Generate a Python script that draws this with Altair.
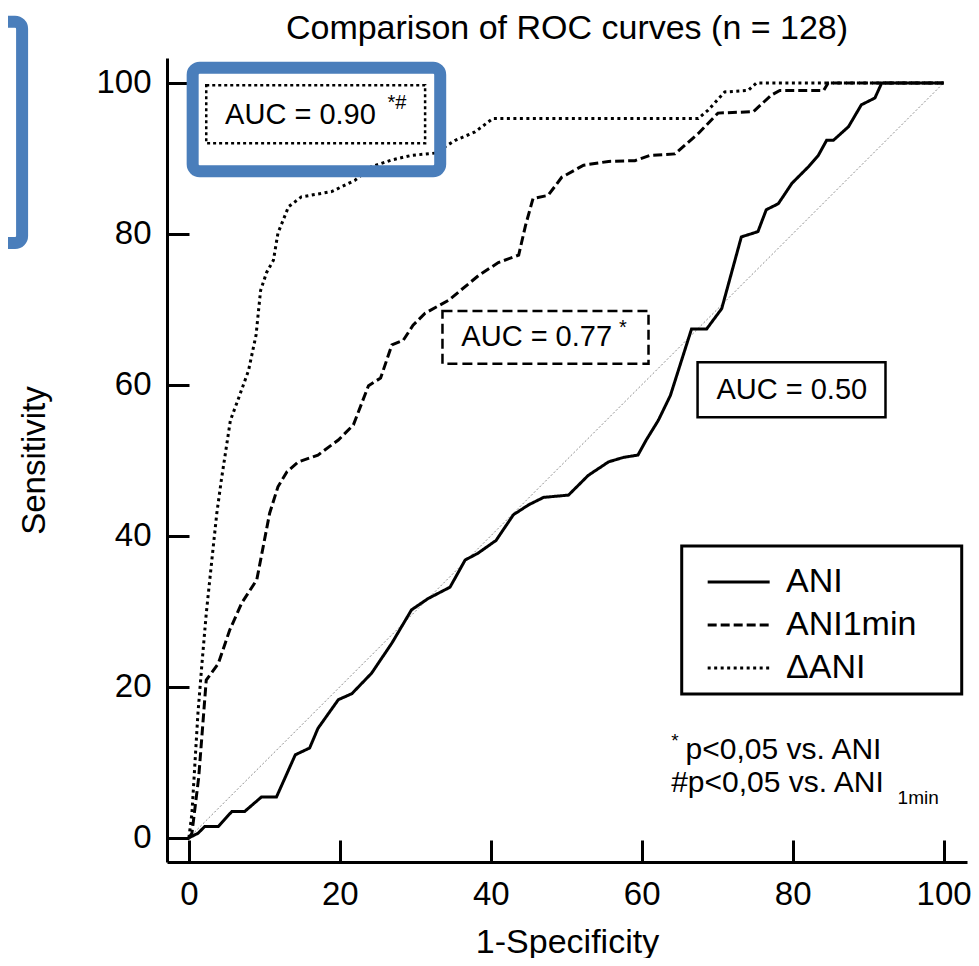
import altair as alt
import pandas as pd

# ---------------- data ----------------
SERIES = ["ANI", "ANI1min", "ΔANI"]

ani_x = [0, 1.2, 2.1, 3.9, 5.7, 7.4, 9.6, 11.6, 14.1, 16.0, 17.1, 19.8, 21.6, 24.2, 26.9,
         29.5, 31.7, 34.6, 36.6, 38.3, 40.7, 43.0, 45.0, 47.0, 50.3, 52.9, 55.6, 57.6, 59.5,
         60.6, 62.2, 63.8, 66.6, 68.6, 70.6, 73.2, 75.4, 76.5, 78.1, 79.9, 82.1, 83.4, 84.5,
         85.4, 87.4, 89.1, 90.9, 91.8, 100]
ani_y = [0, 0.6, 1.5, 1.5, 3.5, 3.5, 5.4, 5.4, 11.0, 11.9, 14.5, 18.3, 19.1, 21.8, 25.8,
         30.2, 31.7, 33.2, 36.8, 37.7, 39.4, 42.8, 44.1, 45.1, 45.4, 48.0, 49.8, 50.4, 50.7,
         52.7, 55.3, 58.6, 67.4, 67.4, 70.1, 79.6, 80.3, 83.2, 84.0, 86.7, 88.9, 90.4, 92.4,
         92.4, 94.2, 97.1, 98.0, 100, 100]

ani1_x = [0, 0.4, 1.3, 2.3, 3.9, 5.4, 7.0, 9.0, 10.7, 11.8, 13.0, 14.5, 17.1, 19.8, 21.8,
          23.8, 25.4, 26.9, 28.4, 29.7, 31.3, 34.4, 38.4, 41.0, 43.7, 44.6, 45.6, 47.6, 49.4,
          52.3, 55.6, 59.1, 61.1, 64.4, 67.5, 70.1, 74.8, 77.2, 78.3, 84.1, 84.7, 100]
ani1_y = [0, 0.6, 8.0, 20.9, 23.1, 27.5, 31.1, 34.2, 43.0, 46.5, 48.5, 49.8, 50.7, 52.7, 54.7,
          59.9, 60.9, 65.3, 65.9, 67.9, 69.5, 71.2, 74.5, 76.2, 77.2, 81.1, 84.7, 85.1, 87.5,
          89.1, 89.6, 89.7, 90.4, 90.6, 93.3, 96.0, 96.2, 98.4, 99.0, 99.0, 100, 100]

dani_x = [0, 0.4, 1.2, 1.7, 2.3, 3.0, 3.7, 4.3, 5.0, 5.5, 6.5, 7.9, 8.9, 9.5, 10.3, 11.2,
          11.8, 13.2, 14.9, 18.9, 22.0, 24.2, 26.9, 29.5, 32.6, 35.3, 37.9, 40.3, 54.2, 67.5,
          68.8, 71.0, 74.1, 75.2, 100]
dani_y = [0, 3.2, 16.5, 22.7, 29.7, 36.4, 43.0, 47.4, 52.0, 55.3, 58.0, 61.9, 66.6, 72.5,
          74.9, 76.5, 80.1, 83.6, 84.9, 85.6, 87.1, 88.9, 89.8, 90.4, 90.7, 92.4, 93.5, 95.3,
          95.3, 95.3, 96.4, 98.8, 99.0, 100, 100]

diag_x = [0, 100]
diag_y = [0, 100]

TICKS = [0, 20, 40, 60, 80, 100]

# annotation boxes
auc_labels = ["AUC = 0.90", "AUC = 0.77", "AUC = 0.50"]
auc_marks = ["*#", "*"]
auc_box_x = [2.3, 33.6, 67.4]
auc_box_x2 = [31.3, 60.9, 92.3]
auc_box_y = [99.7, 69.8, 63.0]
auc_box_y2 = [92.0, 62.8, 55.7]
auc_text_x = [4.8, 36.1, 69.9]
auc_text_y = [95.8, 66.3, 59.3]
auc_mark_x = [26.3, 57.0]
auc_mark_y = [97.4, 67.6]

# legend frame
leg_box_x, leg_box_x2 = [65.3], [102.4]
leg_box_y, leg_box_y2 = [38.65], [19.05]

# highlight boxes (blue)
hl_x = [0.5, -40]
hl_x2 = [33.3, -22.1]
hl_y = [102.0, 108.1]
hl_y2 = [88.3, 78.8]

foot_main = ["p<0,05 vs. ANI", "#p<0,05 vs. ANI"]
foot_main_x = [65.8, 63.9]
foot_main_y = [11.6, 7.3]
foot_small = ["*", "1min"]
foot_small_x = [63.9, 93.9]
foot_small_y = [12.8, 5.3]

# ---------------- build tables ----------------
rows = []
for name, xs_, ys_ in [("ANI", ani_x, ani_y), ("ANI1min", ani1_x, ani1_y), ("ΔANI", dani_x, dani_y)]:
    for i, (a, b) in enumerate(zip(xs_, ys_)):
        rows.append({"series": name, "x": a, "y": b, "order": i})
curves = pd.DataFrame(rows)
diag = pd.DataFrame({"x": diag_x, "y": diag_y})

FONT = "Liberation Sans"
BLUE = "#4A7EBB"
W, H = 800, 804

xscale = alt.Scale(domain=[-2.9, 103.1], nice=False, zero=False)
yscale = alt.Scale(domain=[-3.2, 103.3], nice=False, zero=False)

x_axis = alt.Axis(values=TICKS, title="1-Specificity", ticks=False, tickSize=0,
                  grid=True, gridColor="black", gridWidth=3, gridDash=[0, H - 22, 22, 3000],
                  domain=True, domainColor="black", domainWidth=3,
                  labelFont=FONT, labelFontSize=33, labelColor="black", labelPadding=16,
                  titleFont=FONT, titleFontSize=34, titleFontWeight="normal", titleColor="black",
                  titlePadding=14)
y_axis = alt.Axis(values=TICKS, title="Sensitivity", ticks=False, tickSize=0,
                  grid=True, gridColor="black", gridWidth=3, gridDash=[22, 3000],
                  domain=True, domainColor="black", domainWidth=3,
                  labelFont=FONT, labelFontSize=33, labelColor="black", labelPadding=16,
                  titleFont=FONT, titleFontSize=33, titleFontWeight="normal", titleColor="black",
                  titlePadding=44)

X = alt.X("x:Q", scale=xscale, axis=x_axis)
Y = alt.Y("y:Q", scale=yscale, axis=y_axis)

diag_layer = alt.Chart(diag).mark_line(color="#8c8c8c", strokeWidth=1, strokeDash=[2, 2]).encode(x=X, y=Y)

curve_layer = alt.Chart(curves).mark_line(color="black", strokeWidth=3).encode(
    x=X, y=Y, order="order:Q",
    strokeDash=alt.StrokeDash(
        "series:N",
        scale=alt.Scale(domain=SERIES, range=[[1, 0], [9, 4], [3, 3.5]]),
        legend=alt.Legend(title=None, orient="none", legendX=534, legendY=507,
                          padding=0,
                          symbolType="M-1,0H5", symbolSize=427, symbolStrokeWidth=3,
                          symbolStrokeColor="black",
                          labelFont=FONT, labelFontSize=34, labelColor="black",
                          labelOffset=51, rowPadding=9),
    ),
)

boxes = pd.DataFrame({"x": auc_box_x, "x2": auc_box_x2, "y": auc_box_y, "y2": auc_box_y2,
                      "i": [0, 1, 2]})
box_dashes = [[3, 3], [10, 5], [1, 0]]
box_layers = []
for i in range(3):
    box_layers.append(
        alt.Chart(boxes[boxes.i == i]).mark_rect(filled=False, stroke="black", strokeWidth=2.5,
                                                 strokeDash=box_dashes[i]).encode(
            x=X, x2="x2:Q", y=Y, y2="y2:Q")
    )

leg = pd.DataFrame({"x": leg_box_x, "x2": leg_box_x2, "y": leg_box_y, "y2": leg_box_y2})
leg_layer = alt.Chart(leg).mark_rect(filled=False, stroke="black", strokeWidth=3).encode(
    x=X, x2="x2:Q", y=Y, y2="y2:Q")

auc_txt = pd.DataFrame({"x": auc_text_x, "y": auc_text_y, "t": auc_labels})
auc_text_layer = alt.Chart(auc_txt).mark_text(align="left", baseline="middle", font=FONT,
                                              fontSize=29, color="black").encode(x=X, y=Y, text="t:N")
auc_mk = pd.DataFrame({"x": auc_mark_x, "y": auc_mark_y, "t": auc_marks})
auc_mark_layer = alt.Chart(auc_mk).mark_text(align="left", baseline="middle", font=FONT,
                                             fontSize=20, color="black").encode(x=X, y=Y, text="t:N")

fm = pd.DataFrame({"x": foot_main_x, "y": foot_main_y, "t": foot_main})
foot_main_layer = alt.Chart(fm).mark_text(align="left", baseline="middle", font=FONT,
                                          fontSize=30, color="black").encode(x=X, y=Y, text="t:N")
fs = pd.DataFrame({"x": foot_small_x, "y": foot_small_y, "t": foot_small})
foot_small_layer = alt.Chart(fs).mark_text(align="left", baseline="middle", font=FONT,
                                           fontSize=19, color="black").encode(x=X, y=Y, text="t:N")

hl = pd.DataFrame({"x": hl_x, "x2": hl_x2, "y": hl_y, "y2": hl_y2})
hl_layer = alt.Chart(hl).mark_rect(filled=False, stroke=BLUE, strokeWidth=12, cornerRadius=7,
                                   clip=False).encode(x=X, x2="x2:Q", y=Y, y2="y2:Q")

chart = alt.layer(
    diag_layer, curve_layer, *box_layers, leg_layer, auc_text_layer, auc_mark_layer,
    foot_main_layer, foot_small_layer, hl_layer
).properties(
    width=W, height=H,
    title=alt.TitleParams("Comparison of ROC curves (n = 128)", font=FONT, fontSize=34,
                          fontWeight="normal", color="black", anchor="middle", offset=-57,
                          baseline="alphabetic"),
    autosize=alt.AutoSizeParams(type="none"),
    padding={"left": 159, "top": 50, "right": 4, "bottom": 96},
).configure_view(stroke=None)

chart.save("out.html", embed_options={"renderer": "svg", "actions": False})
